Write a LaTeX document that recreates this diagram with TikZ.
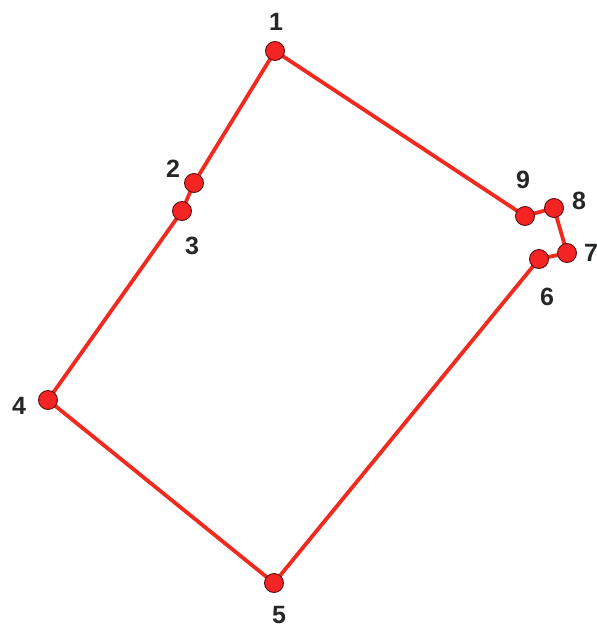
\documentclass[tikz,border=0pt]{standalone}
\usepackage{fontspec}
\setmainfont{Liberation Sans}
\usetikzlibrary{backgrounds}
\definecolor{edgered}{HTML}{F02A1E}
\definecolor{dotred}{HTML}{F52424}
\definecolor{rimdark}{HTML}{5A1010}
\begin{document}
\begin{tikzpicture}[x=1pt,y=-1pt,
  vert/.style={circle,fill=dotred,draw=rimdark,line width=0.9pt,minimum size=19pt,inner sep=0pt},
  lbl/.style={font=\fontsize{25}{30}\selectfont\bfseries,text=black!85,inner sep=0pt},
  edge/.style={draw=edgered,line width=3.8pt,line cap=round}]
\useasboundingbox (0,0) rectangle (597,627);
\node[vert] (v1) at (275,51) {};
\node[vert] (v2) at (194,183) {};
\node[vert] (v3) at (182,211) {};
\node[vert] (v4) at (48,400) {};
\node[vert] (v5) at (274,583) {};
\node[vert] (v6) at (539,259) {};
\node[vert] (v7) at (567,253) {};
\node[vert] (v8) at (554,208) {};
\node[vert] (v9) at (525,216) {};
\begin{pgfonlayer}{background}
\draw[edge] (v1.center) -- (v2.center) -- (v3.center) -- (v4.center) -- (v5.center) -- (v6.center) -- (v7.center) -- (v8.center) -- (v9.center) -- (v1.center);
\end{pgfonlayer}
\node[lbl] (l1) at (276,22) {1};
\node[lbl] (l2) at (173,169) {2};
\node[lbl] (l3) at (192,246) {3};
\node[lbl] (l4) at (19,406) {4};
\node[lbl] (l5) at (279,615) {5};
\node[lbl] (l6) at (547,297) {6};
\node[lbl] (l7) at (591,253) {7};
\node[lbl] (l8) at (579,201) {8};
\node[lbl] (l9) at (523,180) {9};
\end{tikzpicture}
\end{document}
